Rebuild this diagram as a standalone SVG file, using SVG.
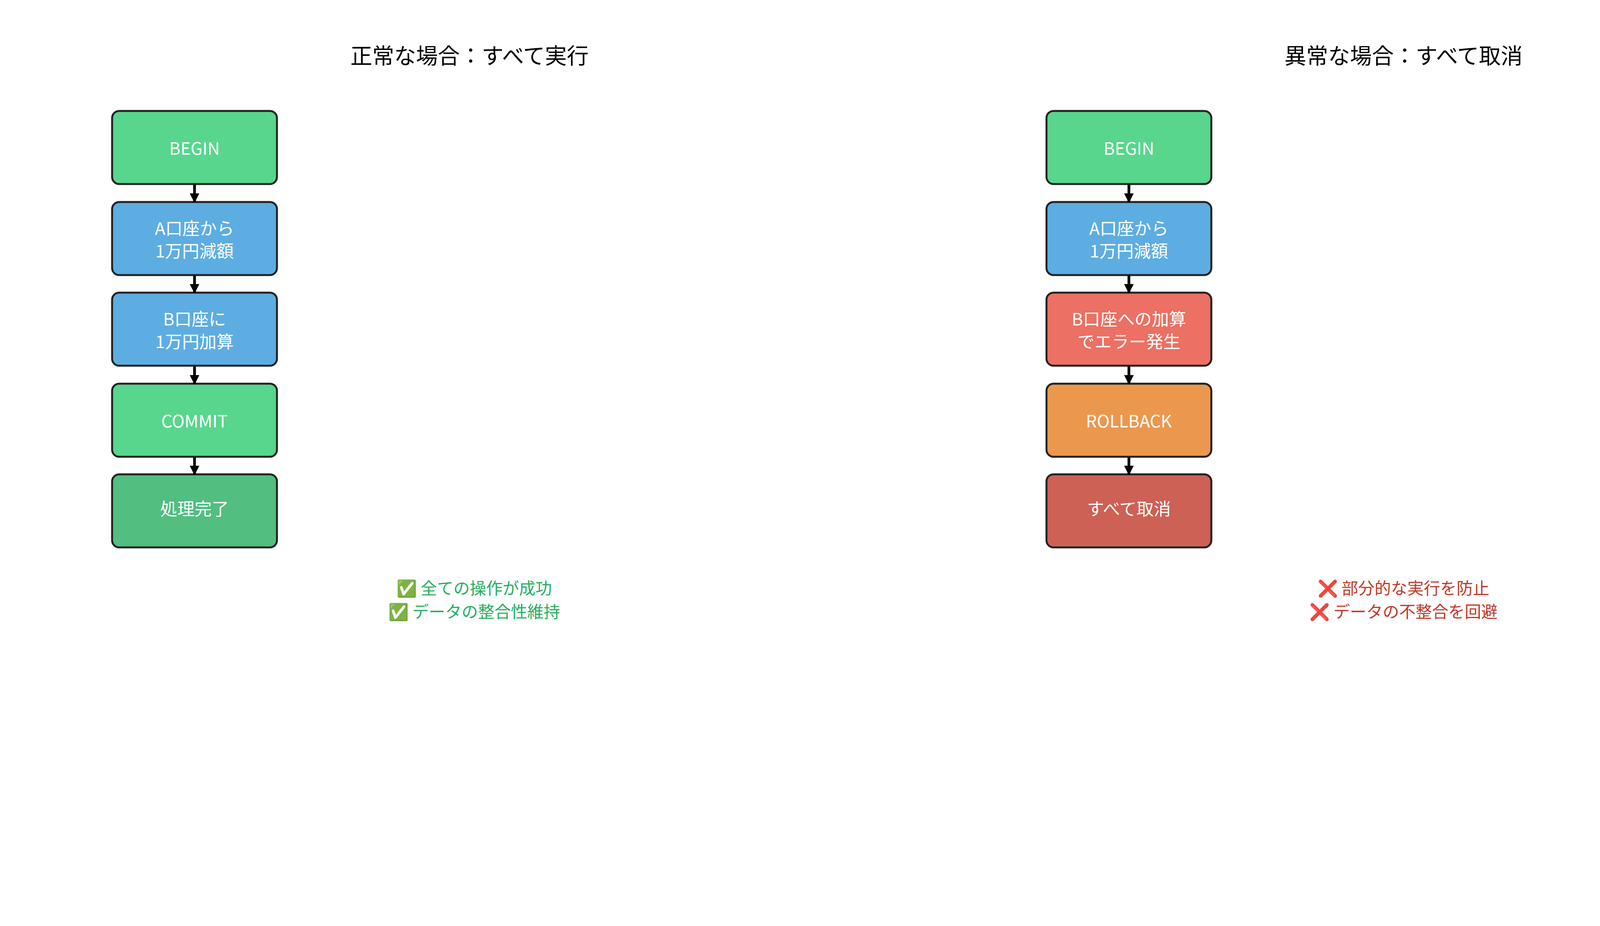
<svg xmlns="http://www.w3.org/2000/svg" width="4770" height="2370" viewBox="0 0 4770 2370">
<style>
text{font-family:"Noto Sans CJK JP","Noto Sans",sans-serif;text-anchor:middle;dominant-baseline:central}
.t{font-size:56px;fill:#000}
.n{font-size:44px;fill:#fff}
.b{stroke:#222;stroke-width:5}
.f{font-size:42px}
.c line{stroke:#000;stroke-width:7;marker-end:url(#a)}
</style>
<defs><marker id="a" viewBox="0 0 10 10" refX="9" refY="5" markerWidth="3.5" markerHeight="3.5" orient="auto" markerUnits="strokeWidth"><path d="M0,0L10,5L0,10z" fill="#000"/></marker></defs>
<rect width="4770" height="2370" fill="#fff"/>
<text class="t" x="1202" y="138">正常な場合：すべて実行</text>
<text class="t" x="3593" y="138">異常な場合：すべて取消</text>
<g id="l1"><rect class="b" x="287" y="284" width="422" height="187" rx="18" fill="#58d68d"/><text class="n" x="498" y="377">BEGIN</text></g>
<g id="l2"><rect class="b" x="287" y="517" width="422" height="187" rx="18" fill="#5dade2"/><text class="n"><tspan x="498" y="582">A口座から</tspan><tspan x="498" y="640">1万円減額</tspan></text></g>
<g id="l3"><rect class="b" x="287" y="749" width="422" height="187" rx="18" fill="#5dade2"/><text class="n"><tspan x="498" y="814">B口座に</tspan><tspan x="498" y="872">1万円加算</tspan></text></g>
<g id="l4"><rect class="b" x="287" y="982" width="422" height="187" rx="18" fill="#58d68d"/><text class="n" x="498" y="1075">COMMIT</text></g>
<g id="l5"><rect class="b" x="287" y="1214" width="422" height="187" rx="18" fill="#52be80"/><text class="n" x="498" y="1300">処理完了</text></g>
<g id="r1"><rect class="b" x="2679" y="284" width="422" height="187" rx="18" fill="#58d68d"/><text class="n" x="2890" y="377">BEGIN</text></g>
<g id="r2"><rect class="b" x="2679" y="517" width="422" height="187" rx="18" fill="#5dade2"/><text class="n"><tspan x="2890" y="582">A口座から</tspan><tspan x="2890" y="640">1万円減額</tspan></text></g>
<g id="r3"><rect class="b" x="2679" y="749" width="422" height="187" rx="18" fill="#ec7063"/><text class="n"><tspan x="2890" y="814">B口座への加算</tspan><tspan x="2890" y="872">でエラー発生</tspan></text></g>
<g id="r4"><rect class="b" x="2679" y="982" width="422" height="187" rx="18" fill="#eb984e"/><text class="n" x="2890" y="1075">ROLLBACK</text></g>
<g id="r5"><rect class="b" x="2679" y="1214" width="422" height="187" rx="18" fill="#cd6155"/><text class="n" x="2890" y="1300">すべて取消</text></g>
<g class="c">
<line x1="498" y1="473" x2="498" y2="517"/><line x1="498" y1="706" x2="498" y2="749"/><line x1="498" y1="938" x2="498" y2="982"/><line x1="498" y1="1171" x2="498" y2="1214"/>
<line x1="2890" y1="473" x2="2890" y2="517"/><line x1="2890" y1="706" x2="2890" y2="749"/><line x1="2890" y1="938" x2="2890" y2="982"/><line x1="2890" y1="1171" x2="2890" y2="1214"/>
</g>
<text class="f" fill="#27ae60"><tspan x="1214" y="1502">✅ 全ての操作が成功</tspan><tspan x="1214" y="1562">✅ データの整合性維持</tspan></text>
<text class="f" fill="#c0392b"><tspan x="3593" y="1502">❌ 部分的な実行を防止</tspan><tspan x="3593" y="1562">❌ データの不整合を回避</tspan></text>
</svg>
